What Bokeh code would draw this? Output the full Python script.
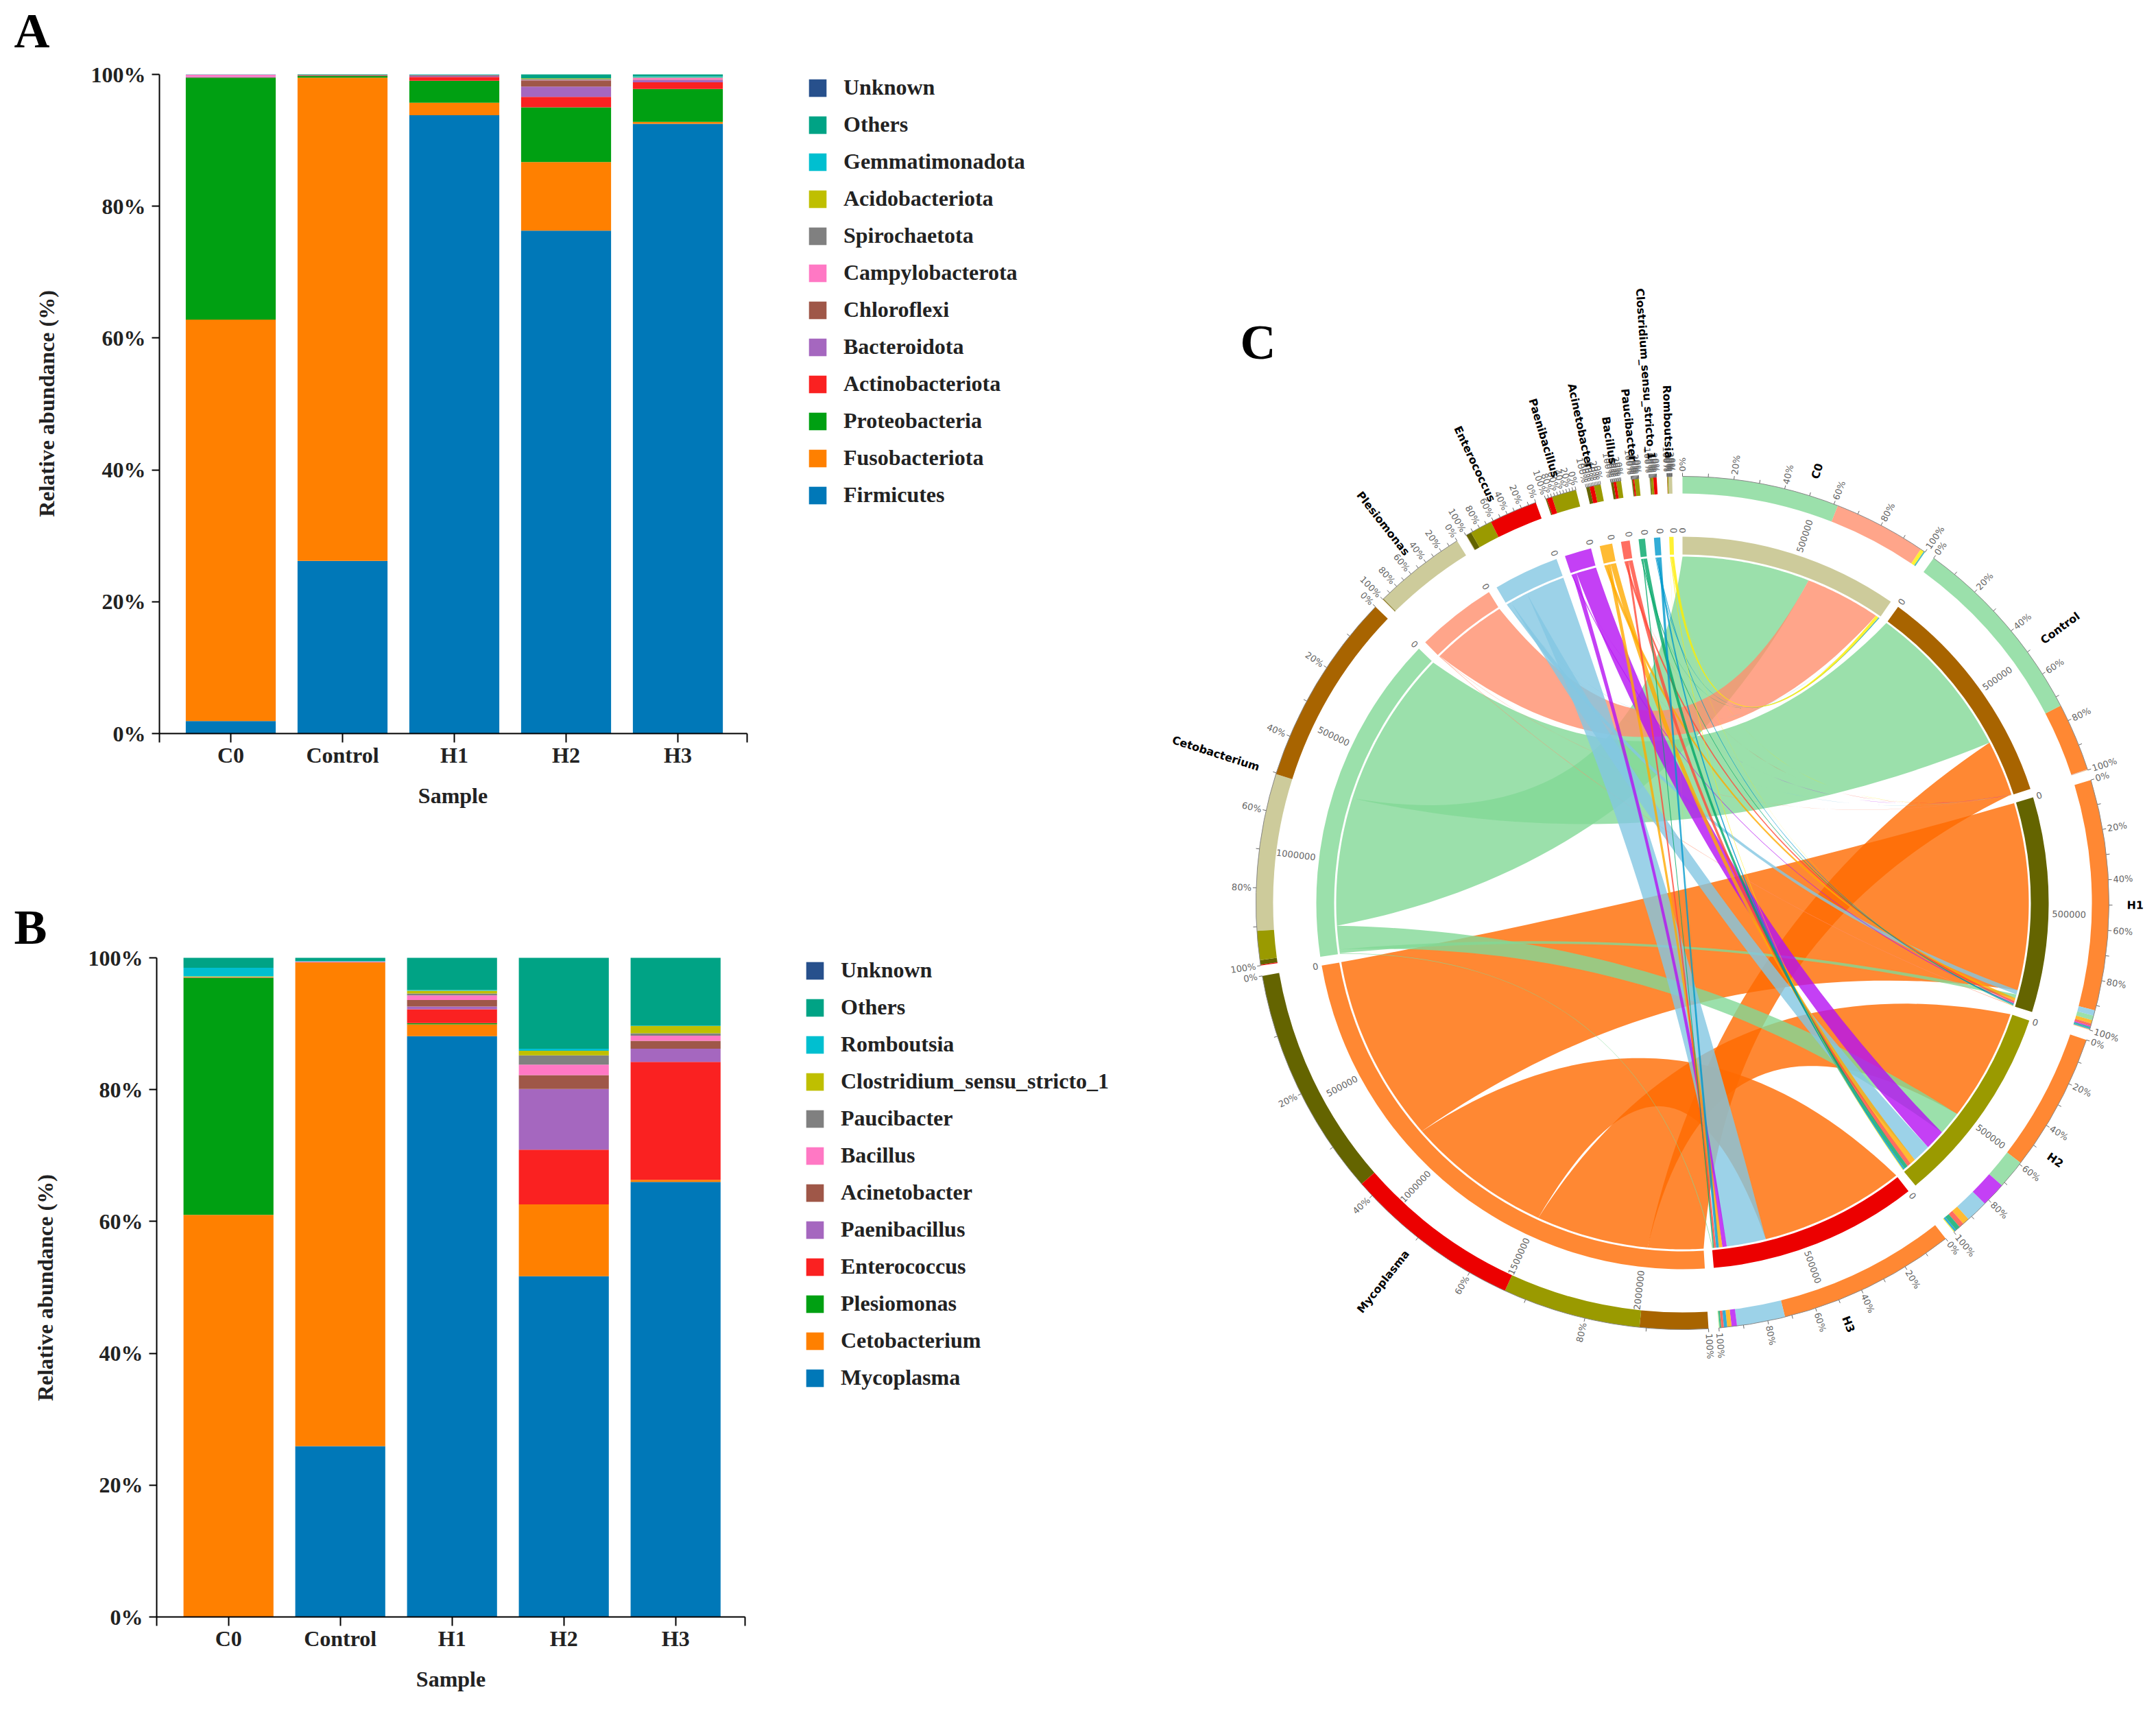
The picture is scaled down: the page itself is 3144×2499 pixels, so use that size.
import math
from bokeh.plotting import figure
from bokeh.layouts import row, column
from bokeh.embed import file_html
from bokeh.resources import INLINE
from bokeh.core.properties import value
from bokeh.models import (ColumnDataSource, FixedTicker, Legend, LegendItem, Label,
                          PrintfTickFormatter, Range1d)

# ---------- data: panels A and B ----------
samples = ["C0", "Control", "H1", "H2", "H3"]
colors_stack = ["#0078B8", "#FF8000", "#00A012", "#FA2121", "#A567BF", "#9F5748",
                "#FF78C4", "#808080", "#BFBF00", "#00BFD0", "#00A385", "#27508C"]

phyla = ["Firmicutes", "Fusobacteriota", "Proteobacteria", "Actinobacteriota", "Bacteroidota",
         "Chloroflexi", "Campylobacterota", "Spirochaetota", "Acidobacteriota",
         "Gemmatimonadota", "Others", "Unknown"]
a_firmicutes = [1.9, 26.2, 93.8, 76.3, 92.5]
a_fusobacteriota = [60.9, 73.3, 1.9, 10.4, 0.3]
a_proteobacteria = [36.7, 0.25, 3.35, 8.3, 5.0]
a_actinobacteriota = [0.05, 0.05, 0.55, 1.6, 1.0]
a_bacteroidota = [0.1, 0.0, 0.15, 1.55, 0.35]
a_chloroflexi = [0.0, 0.05, 0.1, 0.95, 0.05]
a_campylobacterota = [0.3, 0.0, 0.05, 0.05, 0.25]
a_spirochaetota = [0.02, 0.1, 0.0, 0.15, 0.05]
a_acidobacteriota = [0.0, 0.0, 0.0, 0.1, 0.05]
a_gemmatimonadota = [0.03, 0.0, 0.05, 0.0, 0.15]
a_others = [0.0, 0.05, 0.05, 0.6, 0.3]
a_unknown = [0.0, 0.0, 0.0, 0.0, 0.0]
a_series = [a_firmicutes, a_fusobacteriota, a_proteobacteria, a_actinobacteriota, a_bacteroidota,
            a_chloroflexi, a_campylobacterota, a_spirochaetota, a_acidobacteriota,
            a_gemmatimonadota, a_others, a_unknown]

genera = ["Mycoplasma", "Cetobacterium", "Plesiomonas", "Enterococcus", "Paenibacillus",
          "Acinetobacter", "Bacillus", "Paucibacter", "Clostridium_sensu_stricto_1",
          "Romboutsia", "Others", "Unknown"]
b_mycoplasma = [0.0, 25.9, 88.1, 51.7, 66.0]
b_cetobacterium = [61.0, 73.4, 1.8, 10.9, 0.3]
b_plesiomonas = [35.95, 0.0, 0.2, 0.0, 0.0]
b_enterococcus = [0.05, 0.05, 2.1, 8.3, 17.9]
b_paenibacillus = [0.0, 0.05, 0.4, 9.2, 2.0]
b_acinetobacter = [0.0, 0.0, 1.0, 2.1, 1.2]
b_bacillus = [0.0, 0.05, 0.7, 1.6, 0.8]
b_paucibacter = [0.05, 0.0, 0.3, 1.4, 0.35]
b_clostridium = [0.15, 0.0, 0.4, 0.7, 1.1]
b_romboutsia = [1.3, 0.05, 0.1, 0.3, 0.05]
b_others = [1.5, 0.5, 4.9, 13.8, 10.3]
b_unknown = [0.0, 0.0, 0.0, 0.0, 0.0]
b_series = [b_mycoplasma, b_cetobacterium, b_plesiomonas, b_enterococcus, b_paenibacillus,
            b_acinetobacter, b_bacillus, b_paucibacter, b_clostridium, b_romboutsia,
            b_others, b_unknown]

# ---------- data: panel C (reads, estimated from the value axes) ----------
chord_species = ["Mycoplasma", "Cetobacterium", "Plesiomonas", "Enterococcus", "Paenibacillus",
                 "Acinetobacter", "Bacillus", "Paucibacter", "Clostridium_sensu_stricto_1",
                 "Romboutsia"]
chord_C0 = [0, 579000, 342000, 1000, 0, 0, 0, 1500, 3000, 13500]
chord_Control = [252000, 715000, 1000, 500, 500, 0, 500, 0, 0, 500]
chord_H1 = [850000, 17000, 2000, 20000, 4000, 13000, 9000, 4000, 4000, 1000]
chord_H2 = [510000, 107000, 0, 82000, 91000, 25000, 18000, 17000, 8000, 3000]
chord_H3 = [656000, 3000, 0, 178000, 20000, 16000, 10000, 5000, 12000, 500]
chord_rows = [chord_C0, chord_Control, chord_H1, chord_H2, chord_H3]
sample_colors = ["#CDCB9B", "#A86400", "#646400", "#9A9A00", "#EC0000"]
species_colors = ["#FF6A00", "#82D896", "#FF8F6D", "#83C7E2", "#B510F2",
                  "#FFAA00", "#FF4A3A", "#00A668", "#0099CC", "#FFEE00"]
LINK_ALPHA = 0.8

SERIF = "Liberation Serif"
INK = "#222222"


def bar_panel(names, series, letter, px_left, px_right, tick0, px_top, px_bottom,
              fig_top, fig_height, legend_xy, letter_xy, sample_xy, ylabel_xy):
    """The frame fills the whole figure, so that the legend and letter are not cut off;
    the axes sit at fixed places inside it."""
    fig_w = 1640
    unit = 163.0
    per = (px_bottom - px_top) / 100.0
    fx = lambda px: (px - tick0) / unit
    fy = lambda py: (px_bottom - py) / per
    x_min, x_max = fx(px_left), fx(px_right)
    p = figure(width=fig_w, height=fig_height, output_backend="svg", toolbar_location=None,
               x_range=Range1d(fx(0), fx(fig_w)),
               y_range=Range1d(fy(fig_top + fig_height), fy(fig_top)), min_border=0)
    data = {"x": list(range(len(samples)))}
    for n, s in zip(names, series):
        data[n] = s
    rs = p.vbar_stack(names, x="x", width=0.805, source=ColumnDataSource(data),
                      fill_color=colors_stack, line_color=None)
    p.grid.visible = False
    p.outline_line_color = None
    p.background_fill_color = "white"
    p.border_fill_color = "white"

    xa, ya = p.xaxis[0], p.yaxis[0]
    xa.fixed_location = 0
    ya.fixed_location = x_min
    xa.bounds = (x_min, x_max)
    ya.bounds = (0, 100)
    ends = {x_min: "", x_max: ""}
    ends.update({i: s for i, s in enumerate(samples)})
    xa.ticker = FixedTicker(ticks=[x_min, 0, 1, 2, 3, 4, x_max])
    xa.major_label_overrides = ends
    ya.ticker = FixedTicker(ticks=[0, 20, 40, 60, 80, 100])
    ya.formatter = PrintfTickFormatter(format="%d%%")
    for ax in (xa, ya):
        ax.axis_line_color = "black"
        ax.axis_line_width = 2
        ax.major_tick_line_color = "black"
        ax.major_tick_line_width = 2
        ax.major_tick_in = 0
        ax.minor_tick_line_color = None
        ax.major_label_text_font = SERIF
        ax.major_label_text_font_style = "bold"
        ax.major_label_text_font_size = "32px"
        ax.major_label_text_color = INK
    xa.major_tick_out = 13
    ya.major_tick_out = 11
    xa.major_label_standoff = 0
    ya.major_label_standoff = 9

    items = [LegendItem(label=n, renderers=[r]) for n, r in zip(names, rs)][::-1]
    leg = Legend(items=items, location=legend_xy, orientation="vertical",
                 padding=0, margin=0, spacing=17, glyph_width=32, glyph_height=32,
                 label_height=32, label_standoff=22, label_text_font=SERIF,
                 label_text_font_style="bold", label_text_font_size="32px",
                 label_text_color=INK, border_line_color=None, background_fill_alpha=0)
    p.add_layout(leg)
    common = dict(text_font=SERIF, text_font_style="bold", text_color=INK)
    p.add_layout(Label(x=fx(letter_xy[0]), y=fy(letter_xy[1]), text=letter, text_font_size="72px",
                       text_baseline="alphabetic", text_font=SERIF, text_font_style="bold", text_color="black"))
    p.add_layout(Label(x=fx(sample_xy[0]), y=fy(sample_xy[1]), text="Sample", text_font_size="32px",
                       text_align="center", text_baseline="middle", **common))
    p.add_layout(Label(x=fx(ylabel_xy[0]), y=fy(ylabel_xy[1]), text="Relative abundance (%)",
                       text_font_size="32px", text_align="center", text_baseline="middle",
                       angle=math.pi / 2, **common))
    return p


pA = bar_panel(phyla, a_series, "A", 232, 1089, 336, 108, 1069, 0, 1240,
               (1176, 500), (20, 44), (660, 1159), (67, 588))
pB = bar_panel(genera, b_series, "B", 228, 1086, 332.7, 1396, 2357, 1240, 1243,
               (1172, 456), (20, 1351), (657, 2447), (65, 1877))

# ---------- panel C ----------
pC = figure(width=1488, height=2483, output_backend="svg", toolbar_location=None,
            x_range=Range1d(-813, 675), y_range=Range1d(-1167, 1316), min_border=0,
            x_axis_type=None, y_axis_type=None)
pC.grid.visible = False
pC.outline_line_color = None

GAP = 1.4
R_OUT, R_OUT_IN = 622, 597
R_MID, R_MID_IN = 534, 508
R_LINK = 505
BETA = 0.25

sample_totals = [sum(r) for r in chord_rows]
species_totals = [sum(r[j] for r in chord_rows) for j in range(len(chord_species))]
grand = sum(sample_totals) + sum(species_totals)
n_sectors = len(samples) + len(chord_species)
deg_per = (360.0 - n_sectors * GAP) / grand


def xy(theta, r):
    t = math.radians(theta)
    return r * math.sin(t), r * math.cos(t)


def bok(theta):
    return math.radians(90.0 - theta)


# sector extents, clockwise from twelve o'clock
cursor = 0.0
sample_span = []
for tot in sample_totals:
    sample_span.append((cursor, cursor + tot * deg_per))
    cursor += tot * deg_per + GAP
species_span = []
for tot in species_totals:
    species_span.append((cursor, cursor + tot * deg_per))
    cursor += tot * deg_per + GAP

# per-flow angular positions: largest flows first; samples run clockwise, species anticlockwise
flow = {}
for i, r in enumerate(chord_rows):
    pos = sample_span[i][0]
    for j in sorted(range(len(r)), key=lambda j: -r[j]):
        flow[(i, j, "s")] = (pos, pos + r[j] * deg_per)
        pos += r[j] * deg_per
for j in range(len(chord_species)):
    pos = species_span[j][1]
    col = [chord_rows[i][j] for i in range(len(chord_rows))]
    for i in sorted(range(len(col)), key=lambda i: -col[i]):
        flow[(i, j, "t")] = (pos - col[i] * deg_per, pos)
        pos -= col[i] * deg_per


def arc_pts(a, b, n=30):
    n = max(3, min(n, int(abs(b - a)) * 2 + 3))
    return [xy(a + (b - a) * k / (n - 1), R_LINK) for k in range(n)]


def curve(p0, p2, n=40):
    cx, cy = BETA * (p0[0] + p2[0]) / 2, BETA * (p0[1] + p2[1]) / 2
    out = []
    for k in range(1, n):
        t = k / n
        out.append(((1 - t) ** 2 * p0[0] + 2 * t * (1 - t) * cx + t * t * p2[0],
                    (1 - t) ** 2 * p0[1] + 2 * t * (1 - t) * cy + t * t * p2[1]))
    return out


xs, ys, fc = [], [], []
for j in range(len(chord_species)):
    for i in range(len(chord_rows)):
        if chord_rows[i][j] <= 0:
            continue
        s0, s1 = flow[(i, j, "s")]
        t0, t1 = flow[(i, j, "t")]
        a1 = arc_pts(s0, s1)
        a2 = arc_pts(t0, t1)
        pts = a1 + curve(a1[-1], a2[0]) + a2 + curve(a2[-1], a1[0])
        xs.append([q[0] for q in pts])
        ys.append([q[1] for q in pts])
        fc.append(species_colors[j])
pC.patches(xs, ys, fill_color=fc, fill_alpha=LINK_ALPHA, line_color=None)


def wedges(segs, r0, r1):
    st = [bok(b) for _, b, _, _ in segs]
    en = [bok(a) for a, _, _, _ in segs]
    col = [c for _, _, c, _ in segs]
    al = [x for _, _, _, x in segs]
    pC.annular_wedge(x=0, y=0, inner_radius=r0, outer_radius=r1, start_angle=st, end_angle=en,
                     fill_color=col, fill_alpha=al, line_color=None, direction="anticlock")


# middle ring
mid = [(sample_span[i][0], sample_span[i][1], sample_colors[i], 1.0) for i in range(len(samples))]
mid += [(species_span[j][0], species_span[j][1], species_colors[j], LINK_ALPHA) for j in range(len(chord_species))]
wedges(mid, R_MID_IN, R_MID)

# outer ring: composition of each sector
outer = []
for i in range(len(samples)):
    for j in range(len(chord_species)):
        if chord_rows[i][j] > 0:
            a, b = flow[(i, j, "s")]
            outer.append((a, b, species_colors[j], LINK_ALPHA))
for j in range(len(chord_species)):
    for i in range(len(samples)):
        if chord_rows[i][j] > 0:
            a, b = flow[(i, j, "t")]
            outer.append((a, b, sample_colors[i], 1.0))
wedges(outer, R_OUT_IN, R_OUT)

spans = [(sample_span[i], 1) for i in range(len(samples))] + [(species_span[j], -1) for j in range(len(chord_species))]
pC.arc(x=0, y=0, radius=R_OUT, start_angle=[bok(s[1]) for s, _ in spans], end_angle=[bok(s[0]) for s, _ in spans],
       direction="anticlock", line_color="#888888", line_width=1)


def radial_text(labels, thetas, r, size, color, style="normal"):
    right = [k for k, t in enumerate(thetas) if t % 360 <= 180]
    left = [k for k, t in enumerate(thetas) if t % 360 > 180]
    for idx, align, base in ((right, "left", 90.0), (left, "right", 270.0)):
        if not idx:
            continue
        pC.text(x=[xy(thetas[k], r)[0] for k in idx], y=[xy(thetas[k], r)[1] for k in idx],
                text=[labels[k] for k in idx], angle=[math.radians(base - thetas[k]) for k in idx],
                text_align=align, text_baseline="middle", text_font=value("DejaVu Sans"),
                text_font_size=value(size), text_font_style=style, text_color=color)


# ticks and tick labels
sx0, sy0, sx1, sy1, pl, pt, vl, vt = [], [], [], [], [], [], [], []
for (a, b), d in spans:
    for k in range(11):
        th = a + (b - a) * k / 10 if d > 0 else b - (b - a) * k / 10
        p0, p1 = xy(th, R_OUT), xy(th, R_OUT + 5)
        sx0.append(p0[0]); sy0.append(p0[1]); sx1.append(p1[0]); sy1.append(p1[1])
        if k % 2 == 0:
            pl.append("%d%%" % (k * 10))
            pt.append(th)
    tot = (b - a) / deg_per
    v = 0
    while v <= tot:
        vl.append(str(v))
        vt.append(a + v * deg_per if d > 0 else b - v * deg_per)
        v += 500000
pC.segment(sx0, sy0, sx1, sy1, line_color="#666666", line_width=1)
radial_text(pl, pt, R_OUT + 7, "13px", "#666666")
radial_text(vl, vt, R_MID + 5, "13px", "#666666")

names_all = samples + chord_species
mid_theta = [(s[0] + s[1]) / 2 for s, _ in spans]
radial_text(names_all, mid_theta, 648, "16px", "black", "bold")

pC.add_layout(Label(x=-645, y=818, text="C", text_font=SERIF, text_font_style="bold",
                    text_font_size="72px", text_baseline="alphabetic", text_color="black"))

layout = row(column(pA, pB, spacing=0), pC, spacing=0)
open("out.html", "w").write(file_html(layout, INLINE))
